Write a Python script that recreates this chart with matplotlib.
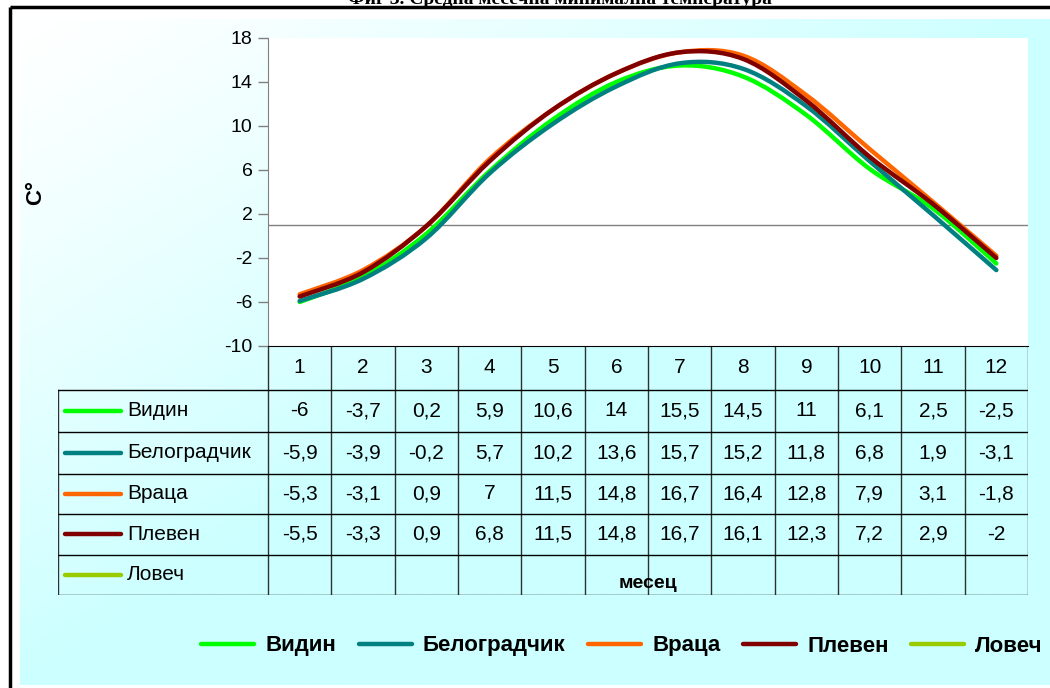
import numpy as np
import matplotlib.pyplot as plt
from matplotlib.path import Path
from matplotlib.patches import PathPatch
from matplotlib.lines import Line2D

plt.rcParams['font.family'] = ['Liberation Sans', 'DejaVu Sans']
plt.rcParams['axes.unicode_minus'] = False

# data: mean monthly minimum temperature, deg C
months = [1, 2, 3, 4, 5, 6, 7, 8, 9, 10, 11, 12]
vidin = [-6, -3.7, 0.2, 5.9, 10.6, 14, 15.5, 14.5, 11, 6.1, 2.5, -2.5]
belogradchik = [-5.9, -3.9, -0.2, 5.7, 10.2, 13.6, 15.7, 15.2, 11.8, 6.8, 1.9, -3.1]
vratsa = [-5.3, -3.1, 0.9, 7, 11.5, 14.8, 16.7, 16.4, 12.8, 7.9, 3.1, -1.8]
pleven = [-5.5, -3.3, 0.9, 6.8, 11.5, 14.8, 16.7, 16.1, 12.3, 7.2, 2.9, -2]
lovech = []

names = ['Видин', 'Белоградчик', 'Враца', 'Плевен', 'Ловеч']
series = [vidin, belogradchik, vratsa, pleven, lovech]
colors = ['#00FF00', '#008080', '#FF6600', '#800000', '#99CC00']
yticks = [-10, -6, -2, 2, 6, 10, 14, 18]

W, H = 1050, 688


def fig_rect(x0, y0, x1, y1):
    # pixel box -> figure fraction
    return [x0 / W, 1 - y1 / H, (x1 - x0) / W, (y1 - y0) / H]


def smooth_path(x, y):
    # excel-like smoothed line: catmull-rom as cubic bezier
    p = np.column_stack([x, y]).astype(float)
    pts = np.vstack([p[0], p, p[-1]])
    verts = [p[0]]
    codes = [Path.MOVETO]
    for i in range(1, len(pts) - 2):
        c1 = pts[i] + (pts[i + 1] - pts[i - 1]) / 6
        c2 = pts[i + 1] - (pts[i + 2] - pts[i]) / 6
        verts += [c1, c2, pts[i + 1]]
        codes += [Path.CURVE4] * 3
    return Path(verts, codes)


def fmt(v):
    return f"{v:g}".replace('.', ',')


fig = plt.figure(figsize=(10.5, 6.88), dpi=100)

# background: frame and gradient
bg = fig.add_axes([0, 0, 1, 1], zorder=-10)
bg.set_xlim(0, W)
bg.set_ylim(H, 0)
bg.axis('off')
gx, gy = np.meshgrid(np.linspace(0, 1, 200), np.linspace(0, 1, 200))
t = np.clip(gx + gy, 0, 1) ** 1.2
white = np.array([1.0, 1.0, 1.0])
cyan = np.array([0.80, 1.0, 1.0])
img = white[None, None, :] * (1 - t[..., None]) + cyan[None, None, :] * t[..., None]
bg.imshow(img, extent=(20, W, 685, 19), aspect='auto', interpolation='bilinear')
bg.plot([10, 10], [7, H], color='black', lw=2.5, solid_capstyle='butt')
bg.plot([10, W], [7, 7], color='black', lw=2.5, solid_capstyle='butt')

# title, only its lower part shows above the frame
fig.text(560 / W, 1 - 4 / H, 'Фиг 3. Средна месечна минимална температура',
         ha='center', va='baseline', fontsize=14, fontweight='bold',
         family=['Liberation Serif', 'DejaVu Serif'])

# main plot
ax = fig.add_axes(fig_rect(268, 38, 1028, 346), zorder=2)
ax.set_facecolor('white')
ax.set_xlim(0.5, 12.5)
ax.set_ylim(-10, 18)
ax.set_yticks(yticks)
ax.set_xticks([])
ax.tick_params(axis='y', direction='out', length=7, width=1, color='#808080',
               labelsize=14, pad=4)
for s in ['top', 'right']:
    ax.spines[s].set_visible(False)
ax.spines['left'].set_color('#808080')
ax.spines['bottom'].set_color('black')
ax.axhline(1, color='#808080', lw=1, zorder=1)

for vals, c in zip(series, colors):
    if len(vals) == 0:
        continue
    patch = PathPatch(smooth_path(months[:len(vals)], vals), fill=False,
                      edgecolor=c, lw=3.2, capstyle='round', joinstyle='round',
                      zorder=3)
    ax.add_patch(patch)

fig.text(36 / W, 1 - 193 / H, 'C°', rotation=90, ha='center', va='center',
         fontsize=16, fontweight='bold')

# data table under the plot
px_per_m = (1028 - 268) / 12


def px2m(px):
    return 0.5 + (px - 268) / px_per_m


tab = fig.add_axes(fig_rect(58, 346, 1028, 595), zorder=1)
tab.set_xlim(px2m(58), 12.5)
tab.set_ylim(595, 346)
tab.axis('off')
row_edges = [346, 390, 432, 474, 514, 555, 595]
lc = '#303030'
for m in np.arange(0.5, 13, 1):
    tab.plot([m, m], [346, 595], color=lc, lw=1)
tab.plot([px2m(58), px2m(58)], [390, 595], color=lc, lw=1)
for yy in row_edges[1:]:
    tab.plot([px2m(58), 12.5], [yy, yy], color='black', lw=1)

tsize = 15
for m in months:
    tab.text(m, (row_edges[0] + row_edges[1]) / 2, str(m), ha='center',
             va='center', fontsize=tsize)

for i, (name, vals, c) in enumerate(zip(names, series, colors)):
    yc = (row_edges[i + 1] + row_edges[i + 2]) / 2
    tab.plot([px2m(65), px2m(121)], [yc, yc], color=c, lw=3.2,
             solid_capstyle='round')
    tab.text(px2m(127), yc, name, ha='left', va='center', fontsize=tsize)
    for m, v in zip(months, vals):
        tab.text(m, yc, fmt(v), ha='center', va='center', fontsize=tsize)

fig.text(648 / W, 1 - 583 / H, 'месец', ha='center', va='center',
         fontsize=14, fontweight='bold', zorder=5)

# legend
handles = [Line2D([], [], color=c, lw=3.2, solid_capstyle='round') for c in colors]
fig.legend(handles, names, loc='center', bbox_to_anchor=(622 / W, 1 - 646 / H),
           ncol=5, frameon=False, handlelength=2.4, handletextpad=0.5,
           columnspacing=1.0, prop={'size': 16, 'weight': 'bold'})

fig.savefig('out.png', dpi=100)
